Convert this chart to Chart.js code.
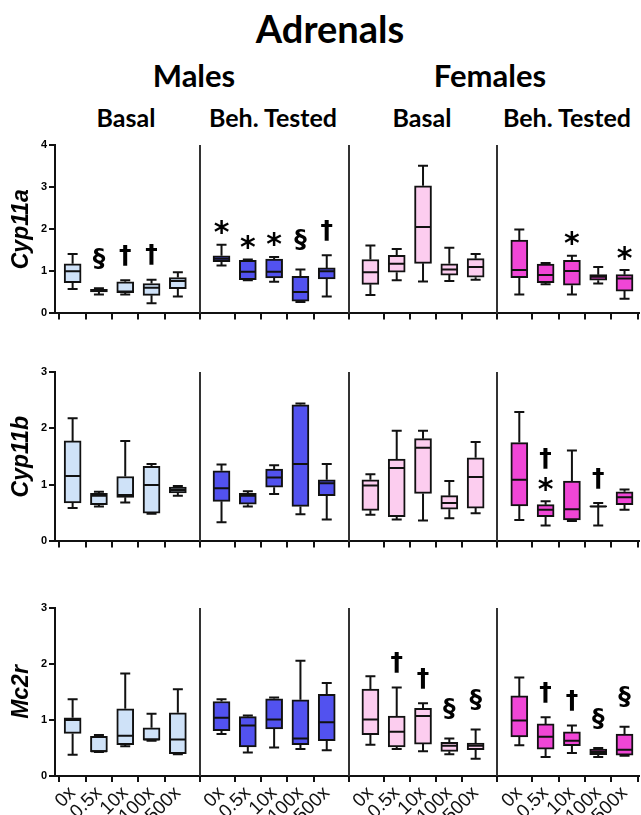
<!DOCTYPE html>
<html>
<head>
<meta charset="utf-8">
<script src="https://cdn.jsdelivr.net/npm/chart.js@4.4.1/dist/chart.umd.min.js"></script>
<style>
  body { margin: 0; width: 641px; height: 815px; overflow: hidden; background: #fff; position: relative; }
  .t { position: absolute; font-family: Lato, sans-serif; font-weight: bold; color: #000;
       white-space: nowrap; transform: translateX(-50%); line-height: 1; }
  .row { position: absolute; left: 0; width: 641px; }
</style>
</head>
<body>
<div class="t" style="left:330px;top:9px;font-size:38px">Adrenals</div>
<div class="t" style="left:194px;top:60px;font-size:31px">Males</div>
<div class="t" style="left:490px;top:60px;font-size:31px">Females</div>
<div class="t" style="left:126px;top:105px;font-size:25px">Basal</div>
<div class="t" style="left:273px;top:105px;font-size:25px">Beh. Tested</div>
<div class="t" style="left:422px;top:105px;font-size:25px">Basal</div>
<div class="t" style="left:567px;top:105px;font-size:25px">Beh. Tested</div>

<div class="row" style="top:135px;height:187px"><canvas id="cyp11aChart"></canvas></div>
<div class="row" style="top:362px;height:188px"><canvas id="cyp11bChart"></canvas></div>
<div class="row" style="top:598px;height:238px"><canvas id="mc2rChart"></canvas></div>

<script>
const doses = ['0x', '0.5x', '10x', '100x', '500x'];
const groups = ['Males Basal', 'Males Beh. Tested', 'Females Basal', 'Females Beh. Tested'];
const groupColors = ['#cfe2f8', '#5252ef', '#fccdef', '#f046d6'];

// each box: [min, q1, median, q3, max], 5 doses per group
const cyp11a = [
  [0.58, 0.73, 1.00, 1.18, 1.41], [0.45, 0.51, 0.54, 0.57, 0.60], [0.45, 0.49, 0.52, 0.75, 0.79], [0.24, 0.43, 0.61, 0.71, 0.80], [0.40, 0.59, 0.77, 0.85, 0.98],
  [1.14, 1.23, 1.30, 1.37, 1.63], [0.79, 0.80, 0.99, 1.26, 1.28], [0.75, 0.84, 0.99, 1.29, 1.34], [0.27, 0.29, 0.51, 0.88, 1.04], [0.40, 0.82, 1.00, 1.08, 1.38],
  [0.44, 0.69, 0.98, 1.28, 1.61], [0.79, 0.98, 1.18, 1.38, 1.53], [0.76, 1.19, 2.05, 3.03, 3.51], [0.77, 0.91, 1.04, 1.18, 1.56], [0.80, 0.86, 1.10, 1.30, 1.41],
  [0.45, 0.85, 1.03, 1.74, 1.99], [0.69, 0.73, 0.91, 1.17, 1.20], [0.45, 0.67, 1.01, 1.26, 1.37], [0.71, 0.79, 0.87, 0.92, 1.10], [0.35, 0.53, 0.83, 0.92, 1.03]
];
const cyp11b = [
  [0.59, 0.68, 1.16, 1.78, 2.18], [0.62, 0.65, 0.81, 0.85, 0.88], [0.69, 0.78, 0.82, 1.15, 1.78], [0.49, 0.50, 1.00, 1.33, 1.37], [0.81, 0.86, 0.91, 0.96, 0.98],
  [0.34, 0.71, 0.94, 1.25, 1.36], [0.62, 0.66, 0.81, 0.85, 0.89], [0.84, 0.96, 1.13, 1.28, 1.35], [0.48, 0.62, 1.37, 2.42, 2.44], [0.39, 0.81, 1.03, 1.09, 1.37],
  [0.47, 0.55, 0.99, 1.09, 1.19], [0.39, 0.44, 1.30, 1.46, 1.96], [0.37, 0.85, 1.66, 1.82, 1.96], [0.41, 0.57, 0.68, 0.81, 1.07], [0.50, 0.59, 1.14, 1.48, 1.76],
  [0.38, 0.63, 1.09, 1.75, 2.29], [0.28, 0.44, 0.56, 0.65, 0.71], [0.36, 0.38, 0.57, 1.07, 1.61], [0.28, 0.61, 0.62, 0.63, 0.68], [0.56, 0.65, 0.78, 0.88, 0.92]
];
const mc2r = [
  [0.38, 0.76, 1.00, 1.04, 1.37], [0.43, 0.43, 0.44, 0.71, 0.73], [0.53, 0.56, 0.72, 1.20, 1.83], [0.63, 0.64, 0.65, 0.86, 1.11], [0.39, 0.40, 0.65, 1.13, 1.55],
  [0.75, 0.81, 1.04, 1.33, 1.37], [0.42, 0.52, 0.90, 1.06, 1.08], [0.51, 0.84, 1.01, 1.38, 1.40], [0.48, 0.56, 0.67, 1.36, 2.06], [0.46, 0.63, 0.96, 1.46, 1.66],
  [0.56, 0.74, 1.01, 1.55, 1.78], [0.48, 0.52, 0.79, 1.07, 1.58], [0.44, 0.57, 1.07, 1.21, 1.30], [0.39, 0.44, 0.54, 0.60, 0.67], [0.31, 0.47, 0.54, 0.59, 0.83],
  [0.55, 0.70, 0.99, 1.43, 1.76], [0.34, 0.48, 0.70, 0.93, 1.05], [0.41, 0.54, 0.63, 0.79, 0.90], [0.34, 0.38, 0.43, 0.48, 0.50], [0.36, 0.37, 0.47, 0.75, 0.88]
];

// significance marks: [box index, symbols from bottom to top]
const cyp11aMarks = [[1, '§'], [2, '†'], [3, '†'], [5, '*'], [6, '*'], [7, '*'], [8, '§'], [9, '†'], [17, '*'], [19, '*']];
const cyp11bMarks = [[16, '*†'], [18, '†']];
const mc2rMarks = [[11, '†'], [12, '†'], [13, '§'], [14, '§'], [16, '†'], [17, '†'], [18, '§'], [19, '§']];

const GROUP_STEP = 5.66;
const xPos = k => Math.floor(k / 5) * GROUP_STEP + (k % 5);
const markOffset = { '*': 17, '†': 25, '§': 30 };
const markFont = { '*': 'bold 30px "DejaVu Sans"', '†': 'bold 25px "DejaVu Sans"', '§': 'bold 25px "DejaVu Sans"' };

const boxPlugin = {
  id: 'boxes',
  afterDatasetsDraw(chart, args, opts) {
    const { ctx, chartArea, scales: { x, y } } = chart;
    ctx.save();
    ctx.lineWidth = 2;
    // group dividers
    ctx.strokeStyle = '#333';
    for (let g = 0; g < groups.length - 1; g++) {
      const px = Math.round(x.getPixelForValue(g * GROUP_STEP + 4.83));
      ctx.beginPath();
      ctx.moveTo(px, chartArea.top);
      ctx.lineTo(px, chartArea.bottom);
      ctx.stroke();
    }
    ctx.strokeStyle = '#111';
    opts.boxes.forEach((b, k) => {
      const px = x.getPixelForValue(xPos(k));
      const [mn, q1, md, q3, mx] = b.map(v => y.getPixelForValue(v));
      ctx.beginPath();
      ctx.moveTo(px, q3); ctx.lineTo(px, mx);
      ctx.moveTo(px - 5, mx); ctx.lineTo(px + 5, mx);
      ctx.moveTo(px, q1); ctx.lineTo(px, mn);
      ctx.moveTo(px - 5, mn); ctx.lineTo(px + 5, mn);
      ctx.moveTo(px - 8, md); ctx.lineTo(px + 8, md);
      ctx.stroke();
    });
    ctx.fillStyle = '#000';
    ctx.textAlign = 'center';
    opts.marks.forEach(([k, syms]) => {
      const px = x.getPixelForValue(xPos(k));
      let cy = y.getPixelForValue(opts.boxes[k][4]);
      [...syms].forEach((s, j) => {
        const c = cy - (j === 0 ? markOffset[s] : 26);
        ctx.font = markFont[s];
        const m = ctx.measureText(s);
        ctx.fillText(s, px, c + (m.actualBoundingBoxAscent - m.actualBoundingBoxDescent) / 2);
        cy = c;
      });
    });
    ctx.restore();
  }
};

function makeRow(id, boxes, marks, yMax, title, showLabels) {
  new Chart(document.getElementById(id), {
    type: 'bar',
    data: {
      datasets: [{
        data: boxes.map((b, k) => ({ x: xPos(k), y: [b[1], b[3]] })),
        backgroundColor: boxes.map((b, k) => groupColors[Math.floor(k / 5)]),
        borderColor: '#111',
        borderWidth: 2,
        borderSkipped: false,
        barThickness: 17
      }]
    },
    options: {
      responsive: true,
      maintainAspectRatio: false,
      animation: false,
      layout: { padding: { top: 10, right: 2, left: 0, bottom: 0 } },
      plugins: { legend: { display: false }, tooltip: { enabled: false }, boxes: { boxes, marks } },
      scales: {
        x: {
          type: 'linear',
          min: -0.67,
          max: 21.53,
          offset: false,
          afterBuildTicks: s => { s.ticks = boxes.map((b, k) => ({ value: xPos(k) })); },
          afterFit: s => { s.height = showLabels ? 60 : 8; },
          border: { display: true, color: '#111', width: 2 },
          grid: { drawOnChartArea: false, drawTicks: true, tickLength: 6, color: '#111', lineWidth: 2 },
          ticks: {
            autoSkip: false,
            minRotation: 45,
            maxRotation: 45,
            padding: 0,
            color: '#111',
            font: { family: '"Liberation Sans", Arial', size: 19, weight: 'normal' },
            callback: (v, i) => showLabels ? doses[i % 5] : ''
          }
        },
        y: {
          min: 0,
          max: yMax,
          afterFit: s => { s.width = 55; },
          border: { display: true, color: '#111', width: 2 },
          grid: { drawOnChartArea: false, drawTicks: true, tickLength: 6, color: '#111', lineWidth: 2 },
          ticks: {
            stepSize: 1,
            padding: 2,
            color: '#000',
            font: { family: '"Liberation Sans", Arial', size: 11, weight: 'bold' }
          },
          title: {
            display: true,
            text: title,
            color: '#000',
            padding: { top: 8, bottom: 0 },
            font: { family: '"Liberation Sans", Arial', size: 23, weight: 'bold', style: 'italic' }
          }
        }
      }
    },
    plugins: [boxPlugin]
  });
}

makeRow('cyp11aChart', cyp11a, cyp11aMarks, 4, 'Cyp11a', false);
makeRow('cyp11bChart', cyp11b, cyp11bMarks, 3, 'Cyp11b', false);
makeRow('mc2rChart', mc2r, mc2rMarks, 3, 'Mc2r', true);
</script>
</body>
</html>
